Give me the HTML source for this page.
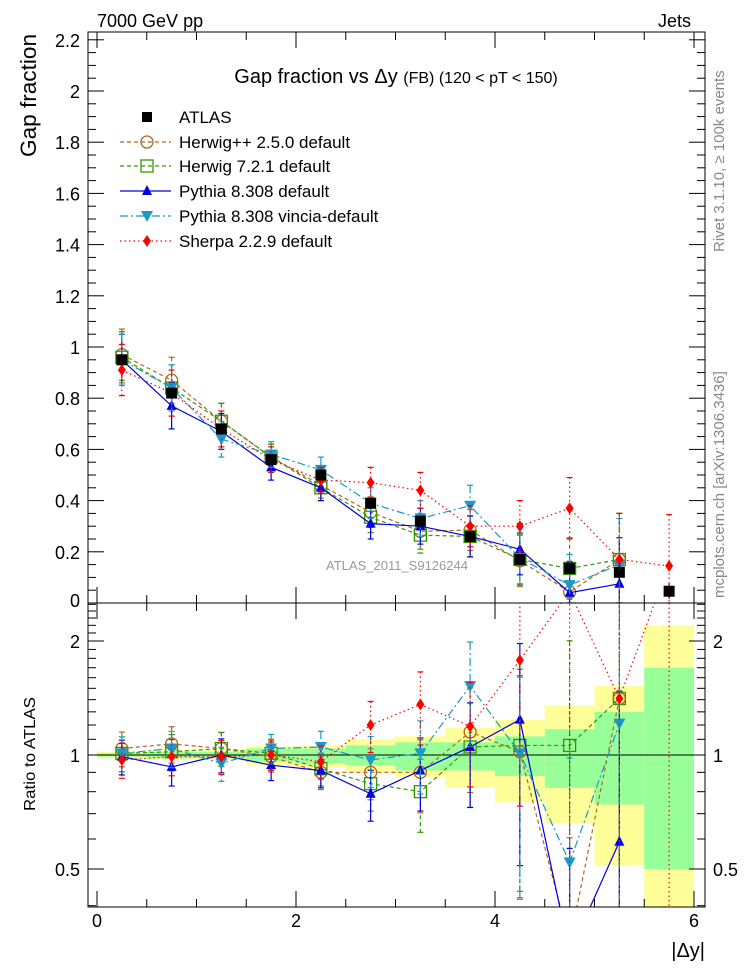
<!DOCTYPE html>
<html><head><meta charset="utf-8">
<style>
html,body{margin:0;padding:0;background:#fff;}
svg{display:block;font-family:"Liberation Sans",sans-serif;}
</style></head>
<body>
<svg id="chart" width="746" height="972" viewBox="0 0 746 972" xmlns="http://www.w3.org/2000/svg">
<defs>
<clipPath id="clipMain"><rect x="88" y="32" width="617" height="571"/></clipPath>
<clipPath id="clipRatio"><rect x="88" y="603" width="617" height="304"/></clipPath>
</defs>
<text x="97" y="27" font-size="18">7000 GeV pp</text>
<text x="691" y="27" font-size="18" text-anchor="end">Jets</text>
<text transform="translate(36,157) rotate(-90)" font-size="22" textLength="123" lengthAdjust="spacingAndGlyphs">Gap fraction</text>
<text transform="translate(35,811) rotate(-90)" font-size="16" textLength="114" lengthAdjust="spacingAndGlyphs">Ratio to ATLAS</text>
<text transform="translate(724,252) rotate(-90)" font-size="15" fill="#888">Rivet 3.1.10, ≥ 100k events</text>
<text transform="translate(724,598) rotate(-90)" font-size="15" fill="#888">mcplots.cern.ch [arXiv:1306.3436]</text>
<text x="396" y="83" font-size="20" text-anchor="middle">Gap fraction vs  Δy <tspan font-size="16">(FB) (120 &lt; pT &lt; 150)</tspan></text>
<text x="397" y="570" font-size="13" fill="#999" text-anchor="middle">ATLAS_2011_S9126244</text>
<text x="705" y="957" font-size="20" text-anchor="end">|Δy|</text>
<g id="bands" clip-path="url(#clipRatio)"></g>
<g id="ticks"></g>
<g id="series-main" clip-path="url(#clipMain)"></g>
<g id="series-ratio" clip-path="url(#clipRatio)"></g>
<g id="legend"></g>
<rect x="88" y="32" width="617" height="571" fill="none" stroke="#000" stroke-width="1"/>
<rect x="88" y="603" width="617" height="304" fill="none" stroke="#000" stroke-width="1"/>
</svg>
<script>
const binCenters = [0.25,0.75,1.25,1.75,2.25,2.75,3.25,3.75,4.25,4.75,5.25,5.75];
const binEdges = [0,0.5,1,1.5,2,2.5,3,3.5,4,4.5,5,5.5,6];
const atlas   = [0.95,0.82,0.68,0.56,0.50,0.39,0.32,0.26,0.17,0.135,0.12,0.046];
const herwigpp= [0.97,0.87,0.71,0.57,0.46,0.355,0.28,0.285,0.165,0.043,0.17,null];
const herwig7 = [0.96,0.84,0.71,0.57,0.45,0.335,0.265,0.26,0.17,0.135,0.17,null];
const pythia  = [0.95,0.77,0.67,0.53,0.45,0.31,0.30,0.26,0.21,0.04,0.075,null];
const vincia  = [0.95,0.84,0.64,0.58,0.52,0.39,0.33,0.38,0.175,0.07,0.15,null];
const sherpa  = [0.91,0.82,0.68,0.56,0.48,0.47,0.44,0.30,0.30,0.37,0.17,0.145];
const modelErr= [0.10,0.09,0.07,0.05,0.05,0.06,0.07,0.08,0.10,0.12,0.18,0.20];
const atlasErr= [0.01,0.01,0.01,0.01,0.01,0.02,0.02,0.02,0.02,0.02,0.03,0.03];
const rHerwigpp=[1.04,1.07,1.04,0.99,0.90,0.90,0.90,1.15,1.02,0.32,1.41,null];
const rHerwig7 =[1.01,1.02,1.04,1.01,0.92,0.84,0.80,1.05,1.06,1.06,1.41,null];
const rPythia  =[0.99,0.93,1.00,0.94,0.91,0.79,0.91,1.05,1.24,0.30,0.59,null];
const rVincia  =[1.01,1.04,0.95,1.04,1.05,0.97,1.01,1.52,1.01,0.52,1.21,null];
const rSherpa  =[0.97,0.99,0.99,1.00,0.96,1.20,1.36,1.19,1.78,2.7,1.41,3.2];
const bandYellowLo=[0.98,0.97,0.97,0.94,0.93,0.90,0.875,0.82,0.75,0.66,0.51,0.30];
const bandYellowHi=[1.02,1.03,1.03,1.055,1.06,1.10,1.12,1.18,1.24,1.35,1.52,2.2];
const bandGreenLo =[0.99,0.98,0.98,0.96,0.95,0.94,0.91,0.91,0.88,0.82,0.74,0.50];
const bandGreenHi =[1.01,1.02,1.02,1.04,1.04,1.06,1.08,1.08,1.12,1.17,1.30,1.70];
const mainTicks=[0.2,0.4,0.6,0.8,1,1.2,1.4,1.6,1.8,2,2.2];
const mainTickLabels=["0.2","0.4","0.6","0.8","1","1.2","1.4","1.6","1.8","2","2.2"];
const ratioTicks=[0.5,1,2];
const ratioTickLabels=["0.5","1","2"];
const xTicks=[0,2,4,6];
const xTickLabels=["0","2","4","6"];

const NS="http://www.w3.org/2000/svg";
const X=v=>97+v*99.5;
const YM=v=>603-v*256;
const YR=r=>755-Math.log2(r)*114;
function mk(tag,attrs,parent){const e=document.createElementNS(NS,tag);for(const k in attrs)e.setAttribute(k,attrs[k]);parent.appendChild(e);return e;}

const gB=document.getElementById('bands');
for(let i=0;i<binCenters.length;i++){
  const x0=X(binEdges[i]),x1=X(binEdges[i+1]);
  const y=mk('rect',{x:x0,y:YR(bandYellowHi[i]),width:x1-x0,height:YR(bandYellowLo[i])-YR(bandYellowHi[i]),fill:'#ffff99'},gB);
  
  
  const g=mk('rect',{x:x0,y:YR(bandGreenHi[i]),width:x1-x0,height:YR(bandGreenLo[i])-YR(bandGreenHi[i]),fill:'#99ff99'},gB);
  
  
}
const one=mk('line',{x1:88,x2:705,y1:YR(1),y2:YR(1),stroke:'#000','stroke-width':1},gB);



const gT=document.getElementById('ticks');
function tick(x1,y1,x2,y2){mk('line',{x1,y1,x2,y2,stroke:'#000','stroke-width':1},gT);}
for(let v=0.05;v<=2.23;v+=0.05){const y=YM(v);const major=Math.abs(v/0.2-Math.round(v/0.2))<0.01;const L=major?16:8;tick(88,y,88+L,y);tick(705,y,705-L,y);}
mainTicks.forEach((v,i)=>{const t=mk('text',{x:80,y:YM(v)+7,'font-size':18,'text-anchor':'end'},gT);t.textContent=mainTickLabels[i];

});
const z=mk('text',{x:80,y:607,'font-size':18,'text-anchor':'end'},gT);z.textContent='0';
for(let r=0.4;r<2.55;r+=0.1){const y=YR(r);if(y<603||y>907)continue;const major=ratioTicks.some(t=>Math.abs(t-r)<0.01);const L=major?16:8;tick(88,y,88+L,y);tick(705,y,705-L,y);}
ratioTicks.forEach((v,i)=>{
 const t=mk('text',{x:80,y:YR(v)+7,'font-size':18,'text-anchor':'end'},gT);t.textContent=ratioTickLabels[i];
 
 
 const t2=mk('text',{x:713,y:YR(v)+7,'font-size':18},gT);t2.textContent=ratioTickLabels[i];
 
 
});
for(let v=0;v<=6.05;v+=0.5){const x=X(v);const major=Math.abs(v/2-Math.round(v/2))<0.01;const L=major?16:8;
 tick(x,603,x,603-L);tick(x,32,x,32+L);tick(x,907,x,907-L);tick(x,603,x,603+L);}
xTicks.forEach((v,i)=>{const t=mk('text',{x:X(v),y:927,'font-size':18,'text-anchor':'middle'},gT);t.textContent=xTickLabels[i];

});

function marker(kind,x,y,color,parent){
 if(kind==='square')return mk('rect',{x:x-5.5,y:y-5.5,width:11,height:11,fill:'#000'},parent);
 if(kind==='circle')return mk('circle',{cx:x,cy:y,r:6,fill:'none',stroke:color,'stroke-width':1.3},parent);
 if(kind==='osquare')return mk('rect',{x:x-6,y:y-6,width:12,height:12,fill:'none',stroke:color,'stroke-width':1.3},parent);
 if(kind==='tri')return mk('polygon',{points:`${x},${y-6} ${x-5},${y+4} ${x+5},${y+4}`,fill:color},parent);
 if(kind==='itri')return mk('polygon',{points:`${x-6},${y-5} ${x+6},${y-5} ${x},${y+6}`,fill:color},parent);
 if(kind==='diamond')return mk('polygon',{points:`${x},${y-6} ${x+4},${y} ${x},${y+6} ${x-4},${y}`,fill:color},parent);
}
const series=[
 {name:'herwigpp',label:'Herwig++ 2.5.0 default',main:herwigpp,ratio:rHerwigpp,color:'#b5651d',dash:'4,3',mk:'circle'},
 {name:'herwig7',label:'Herwig 7.2.1 default',main:herwig7,ratio:rHerwig7,color:'#339900',dash:'4,3',mk:'osquare'},
 {name:'pythia',label:'Pythia 8.308 default',main:pythia,ratio:rPythia,color:'#0000e0',dash:'',mk:'tri'},
 {name:'vincia',label:'Pythia 8.308 vincia-default',main:vincia,ratio:rVincia,color:'#1a9ac8',dash:'8,3,2,3',mk:'itri'},
 {name:'sherpa',label:'Sherpa 2.2.9 default',main:sherpa,ratio:rSherpa,color:'#ff0000',dash:'1.5,3',mk:'diamond'}
];
const gM=document.getElementById('series-main'), gR=document.getElementById('series-ratio');
function drawSeries(s,vals,Y,parent,panel,errFn){
 const g=mk('g',{},parent);
 
 
 const pts=[];vals.forEach((v,i)=>{if(v!==null)pts.push([X(binCenters[i]),Y(v),i,v]);});
 const p=mk('polyline',{points:pts.map(q=>q[0]+','+q[1]).join(' '),fill:'none',stroke:s.color,'stroke-width':1.2,'stroke-dasharray':s.dash},g);
 
 
 pts.forEach(q=>{const e=errFn(q[2],q[3]);
  mk('line',{x1:q[0],x2:q[0],y1:e[0],y2:e[1],stroke:s.color,'stroke-width':1.2,'stroke-dasharray':s.dash},g);
  mk('line',{x1:q[0]-3,x2:q[0]+3,y1:e[0],y2:e[0],stroke:s.color,'stroke-width':1.2},g);
  mk('line',{x1:q[0]-3,x2:q[0]+3,y1:e[1],y2:e[1],stroke:s.color,'stroke-width':1.2},g);
  const m=marker(s.mk,q[0],q[1],s.color,g);
  
  
 });
}
const gA=mk('g',{},gM);


series.forEach(s=>{
 drawSeries(s,s.main,YM,gM,'main',(i,v)=>[YM(v+modelErr[i]),YM(Math.max(v-modelErr[i],0))]);
 drawSeries(s,s.ratio,YR,gR,'ratio',(i,v)=>{const rel=modelErr[i]/atlas[i];return [YR(v*(1+rel)),YR(Math.max(v*(1-rel),0.2))];});
});
atlas.forEach((v,i)=>{const x=X(binCenters[i]);
 mk('line',{x1:x,x2:x,y1:YM(v+atlasErr[i]),y2:YM(v-atlasErr[i]),stroke:'#000'},gA);
 const m=marker('square',x,YM(v),'#000',gA);
 
 
});
gM.appendChild(gA);
const gL=document.getElementById('legend');


const legY=[117,142,166,191,216,241];
const la=mk('g',{},gL);


mk('rect',{x:142,y:legY[0]-5,width:10,height:10,fill:'#000'},la);
const lat=mk('text',{x:179,y:legY[0]+6,'font-size':17},la);lat.textContent='ATLAS';
series.forEach((s,k)=>{const y=legY[k+1];
 const e=mk('g',{},gL);
 
 
 mk('line',{x1:120,x2:171,y1:y,y2:y,stroke:s.color,'stroke-width':1.2,'stroke-dasharray':s.dash},e);
 marker(s.mk,147,y,s.color,e);
 const t=mk('text',{x:179,y:y+6,'font-size':17},e);t.textContent=s.label;
});
</script>
</body></html>
